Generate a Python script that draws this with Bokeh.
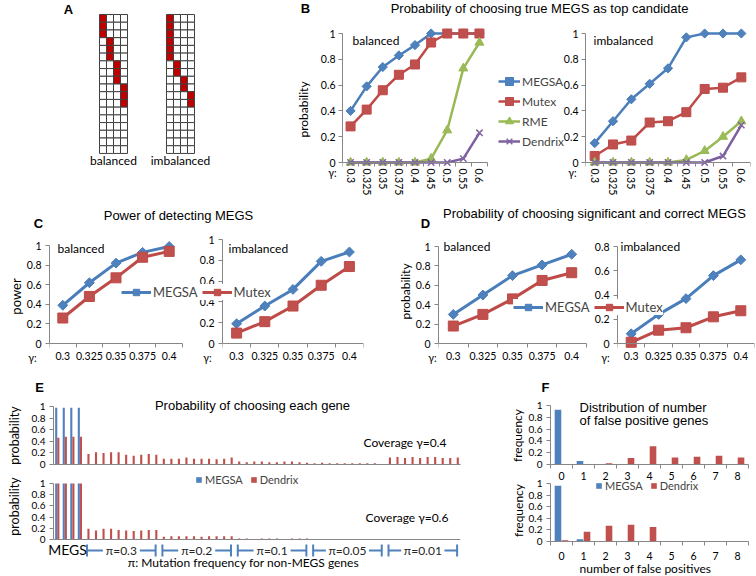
import math
from bokeh.plotting import figure
from bokeh.models import Range1d, FixedTicker, Label, Legend, LegendItem, Span, GridBox, LinearAxis
from bokeh.core.properties import value
from bokeh.embed import file_html
from bokeh.resources import INLINE

# ======================= DATA =======================
# Panel A: toy mutation matrices (18 samples x 4 genes), exclusive blocks
A_n_samples = 18
A_balanced_blocks = [3, 3, 3, 3]
A_imbalanced_blocks = [6, 2, 2, 2]

# Panel B: probability of choosing true MEGS as top candidate
B_gamma = ["0.3", "0.325", "0.35", "0.375", "0.4", "0.45", "0.5", "0.55", "0.6"]
B_bal_MEGSA = [0.40, 0.59, 0.74, 0.83, 0.91, 1.00, 1.00, 1.00, 1.00]
B_bal_Mutex = [0.28, 0.41, 0.56, 0.68, 0.76, 0.93, 1.00, 1.00, 1.00]
B_bal_RME = [0, 0, 0, 0, 0, 0.03, 0.25, 0.73, 0.93]
B_bal_Dendrix = [0, 0, 0, 0, 0, 0, 0, 0.03, 0.23]
B_imb_MEGSA = [0.15, 0.32, 0.49, 0.61, 0.73, 0.97, 1.00, 1.00, 1.00]
B_imb_Mutex = [0.05, 0.14, 0.17, 0.31, 0.32, 0.39, 0.57, 0.58, 0.66]
B_imb_RME = [0, 0, 0, 0, 0, 0.02, 0.09, 0.20, 0.32]
B_imb_Dendrix = [0, 0, 0, 0, 0, 0, 0, 0.05, 0.29]

# Panels C, D
CD_gamma = ["0.3", "0.325", "0.35", "0.375", "0.4"]
C_bal_MEGSA = [0.39, 0.62, 0.82, 0.93, 0.99]
C_bal_Mutex = [0.26, 0.48, 0.67, 0.88, 0.94]
C_imb_MEGSA = [0.19, 0.36, 0.52, 0.79, 0.88]
C_imb_Mutex = [0.10, 0.21, 0.36, 0.56, 0.74]
D_bal_MEGSA = [0.30, 0.50, 0.70, 0.81, 0.92]
D_bal_Mutex = [0.18, 0.30, 0.46, 0.65, 0.73]
D_imb_MEGSA = [0.08, 0.24, 0.37, 0.56, 0.69]
D_imb_Mutex = [0.01, 0.11, 0.13, 0.22, 0.27]

# Panel E: probability of choosing each gene
E_groups = ["π=0.3", "π=0.2", "π=0.1", "π=0.05", "π=0.01"]
E04_MEGSA_MEGS = [0.98, 0.98, 0.98, 0.98]
E04_Dendrix_MEGS = [0.46, 0.48, 0.48, 0.48]
E04_Dendrix_pi03 = [0.18, 0.21, 0.20, 0.21, 0.21, 0.17, 0.15, 0.17, 0.18, 0.17]
E04_Dendrix_pi02 = [0.10, 0.10, 0.10, 0.12, 0.10, 0.10, 0.10, 0.09, 0.10, 0.12]
E04_Dendrix_pi01 = [0.05, 0.04, 0.05, 0.05, 0.04, 0.04, 0.05, 0.05, 0.04, 0.03]
E04_Dendrix_pi005 = [0.02, 0.03, 0.02, 0.02, 0.02, 0.02, 0.02, 0.02, 0.02, 0.01]
E04_Dendrix_pi001 = [0.12, 0.13, 0.11, 0.13, 0.11, 0.13, 0.13, 0.11, 0.11, 0.12]
E06_MEGSA_MEGS = [1.0, 1.0, 1.0, 1.0]
E06_Dendrix_MEGS = [1.0, 1.0, 1.0, 1.0]
E06_Dendrix_pi03 = [0.19, 0.16, 0.19, 0.19, 0.17, 0.16, 0.15, 0.16, 0.17, 0.17]
E06_Dendrix_pi02 = [0.05, 0.06, 0.06, 0.06, 0.06, 0.05, 0.06, 0.06, 0.06, 0.06]
E06_Dendrix_pi01 = [0.02, 0.02, 0.01, 0.02, 0.02, 0.02, 0.01, 0.02, 0.02, 0.02]
E06_Dendrix_pi005 = [0.01, 0.01, 0.01, 0.01, 0.01, 0.01, 0.01, 0.01, 0.01, 0.01]
E06_Dendrix_pi001 = [0.005, 0.005, 0.005, 0.005, 0.005, 0.005, 0.005, 0.005, 0.005, 0.005]

# Panel F: distribution of number of false positive genes
F_num_fp = ["0", "1", "2", "3", "4", "5", "6", "7", "8"]
F04_MEGSA = [0.93, 0.06, 0.01, 0, 0, 0, 0, 0, 0]
F04_Dendrix = [0, 0, 0.02, 0.11, 0.31, 0.12, 0.13, 0.15, 0.12]
F06_MEGSA = [0.96, 0.04, 0, 0, 0, 0, 0, 0, 0]
F06_Dendrix = [0.02, 0.17, 0.27, 0.29, 0.25, 0, 0, 0, 0]

# ======================= STYLE =======================
AX = "#868686"
BLUE, BLUE_D = "#4F81BD", "#4A7EBB"
RED, RED_D = "#C0504D", "#BE4B48"
GREEN, GREEN_D = "#9BBB59", "#98B954"
PURPLE, PURPLE_D = "#8064A2", "#7D60A0"
TF = "Liberation Sans"
BF = "Lato"
PAGE = 0   # the standalone template has no body margin
W, H = 756, 576
EXTT = 8   # frame padding above the top value (so markers are not clipped)
EXTB = 5   # frame padding below zero


def make_fig(frame, xr, yr, l, r, t, b, axes=True):
    x0, y0, x1, y1 = frame
    kw = {} if axes else dict(x_axis_type=None, y_axis_type=None)
    p = figure(width=x1 - x0 + l + r, height=y1 - y0 + t + b, x_range=xr, y_range=yr,
               min_border_left=l, min_border_right=r, min_border_top=t, min_border_bottom=b,
               output_backend="svg", toolbar_location=None,
               background_fill_color=None, border_fill_color=None,
               outline_line_color=None, **kw)
    p.frame_align = False
    p.margin = (y0 - t - PAGE, 0, 0, x0 - l - PAGE)
    if axes:
        p.xgrid.visible = False
        p.ygrid.visible = False
    return p


def overrides(ticks, labels):
    d = {}
    for t, s in zip(ticks, labels):
        d[t] = s
        d[str(t)] = s
    return d


def style_y(ax, ticks, fs="10.5px", standoff=4, bounds=None):
    ax.ticker = FixedTicker(ticks=ticks)
    ax.major_label_overrides = overrides(ticks, ["%g" % t for t in ticks])
    ax.axis_line_color = AX
    ax.major_tick_line_color = AX
    ax.major_tick_out = 4
    ax.major_tick_in = 0
    ax.minor_tick_line_color = None
    ax.major_label_standoff = standoff
    ax.major_label_text_font = BF
    ax.major_label_text_font_size = fs
    ax.major_label_text_color = "black"
    if bounds is not None:
        ax.bounds = bounds


def style_x_cat(ax, labels, fs="10.5px", standoff=6, orientation="horizontal"):
    n = len(labels)
    ax.ticker = FixedTicker(ticks=list(range(n)), minor_ticks=[i - 0.5 for i in range(n + 1)])
    ax.major_label_overrides = overrides(list(range(n)), labels)
    ax.axis_line_color = AX
    ax.major_tick_out = 0
    ax.major_tick_in = 0
    ax.major_tick_line_color = None
    ax.minor_tick_out = 4
    ax.minor_tick_in = 0
    ax.minor_tick_line_color = AX
    ax.major_label_standoff = standoff
    ax.major_label_text_font = BF
    ax.major_label_text_font_size = fs
    ax.major_label_text_color = "black"
    ax.major_label_orientation = orientation


def line_x_axes(p, labels, fs, standoff, orientation="horizontal"):
    """labels on an axis at the frame bottom, rule + boundary ticks on an axis fixed at y=0"""
    n = len(labels)
    ax = p.xaxis[0]
    ax.ticker = FixedTicker(ticks=list(range(n)))
    ax.major_label_overrides = overrides(list(range(n)), labels)
    ax.axis_line_color = None
    ax.major_tick_line_color = None
    ax.minor_tick_line_color = None
    ax.major_tick_out = 0
    ax.major_tick_in = 0
    ax.minor_tick_out = 0
    ax.minor_tick_in = 0
    ax.major_label_standoff = standoff
    ax.major_label_text_font = BF
    ax.major_label_text_font_size = fs
    ax.major_label_text_color = "black"
    ax.major_label_orientation = orientation
    rule = LinearAxis(fixed_location=0,
                      ticker=FixedTicker(ticks=[], minor_ticks=[i - 0.5 for i in range(n + 1)]),
                      bounds=(-0.5, n - 0.5), axis_line_color=AX,
                      major_tick_line_color=None, major_tick_in=0, major_tick_out=0,
                      minor_tick_line_color=AX, minor_tick_in=4, minor_tick_out=0,
                      major_label_standoff=0, major_label_text_font_size="0px")
    p.add_layout(rule, "above")


def series(p, y, color, dcolor, marker, size, angle=0.0, lw=2.5):
    x = list(range(len(y)))
    r1 = p.line(x, y, line_color=dcolor, line_width=lw)
    if marker == "x":
        r2 = p.scatter(x, y, marker="x", size=size, line_color=color, line_width=1.5)
    else:
        r2 = p.scatter(x, y, marker=marker, size=size, angle=angle, fill_color=color,
                       line_color=dcolor, line_width=1)
    return [r1, r2]


def add_legend(p, items, loc, orientation, gw, gh, lh, standoff, spacing, fs, padding=0, bg=None):
    lg = Legend(items=[LegendItem(label=value(t), renderers=rs) for t, rs in items],
                location=loc, orientation=orientation, glyph_width=gw, glyph_height=gh,
                label_height=lh, label_standoff=standoff, spacing=spacing, padding=padding,
                margin=0, label_text_font=BF, label_text_font_size=fs,
                border_line_color=None, background_fill_color=bg, background_fill_alpha=1.0)
    p.add_layout(lg)


# ======================= PANEL A =======================
A = make_fig((8, 8, 250, 190), Range1d(-13, 21.57), Range1d(22.8, -0.78), 0, 0, 0, 0, axes=False)


def grid_cells(blocks, x_off):
    mutated = set()
    row = 0
    for g, n in enumerate(blocks):
        for _ in range(n):
            mutated.add((row, g))
            row += 1
    xs, ys, cs = [], [], []
    for rr in range(A_n_samples):
        for g in range(len(blocks)):
            xs.append(x_off + g + 0.5)
            ys.append(rr + 0.5)
            cs.append("#C00000" if (rr, g) in mutated else "white")
    return xs, ys, cs


for blocks, off in ((A_balanced_blocks, 0.0), (A_imbalanced_blocks, 9.57)):
    xs, ys, cs = grid_cells(blocks, off)
    A.rect(x=xs, y=ys, width=1, height=1, fill_color=cs, line_color="#404040", line_width=1)


# ======================= line-chart helper =======================
def line_fig(axis_box, n, top, extra_right, l, r, t, b):
    """axis_box = (x of y-axis, px of top value, x of axis end, px of zero)"""
    ax0, atop, ax1, a0 = axis_box
    ppu = (a0 - atop) / top
    cat = (ax1 - ax0) / n
    frame = (ax0, atop - EXTT, ax1 + extra_right, a0 + EXTB)
    xr = Range1d(-0.5, -0.5 + (ax1 + extra_right - ax0) / cat)
    yr = Range1d(-EXTB / ppu, top + EXTT / ppu)
    return make_fig(frame, xr, yr, l, r, t, b)


T1 = [0, 0.2, 0.4, 0.6, 0.8, 1]
T08 = [0, 0.2, 0.4, 0.6, 0.8]

# ======================= PANEL B =======================
nB = len(B_gamma)
B_right = line_fig((585, 33, 750, 162), nB, 1.0, 0, 40, 5, 15, 36)
B_left = line_fig((342, 33, 487, 162), nB, 1.0, 80, 55, 5, 15, 36)
B_rend = []
for p, data in ((B_right, (B_imb_MEGSA, B_imb_Mutex, B_imb_RME, B_imb_Dendrix)),
                (B_left, (B_bal_MEGSA, B_bal_Mutex, B_bal_RME, B_bal_Dendrix))):
    style_y(p.yaxis[0], T1, "10.5px", 3, (0, 1))
    line_x_axes(p, B_gamma, "10.5px", 1, "vertical")
    rm = series(p, data[0], BLUE, BLUE_D, "square", 6.5, math.pi / 4)
    rx = series(p, data[1], RED, RED_D, "square", 9)
    rr = series(p, data[2], GREEN, GREEN_D, "triangle", 9)
    rd = series(p, data[3], PURPLE, PURPLE_D, "x", 9)
    B_rend = (rm, rx, rr, rd)
rm, rx, rr, rd = B_rend
add_legend(B_left, [("MEGSA", rm), ("Mutex", rx), ("RME", rr), ("Dendrix", rd)],
           (156, 16), "vertical", 22, 20, 20, 2, 0, "12px")


# ======================= PANELS C, D =======================
def cd_panel(axis_box, top, ticks, d1, d2, extra_right):
    p = line_fig(axis_box, len(CD_gamma), top, extra_right, 40, 5, 15, 30)
    style_y(p.yaxis[0], ticks, "10.5px", 4, (0, top))
    line_x_axes(p, CD_gamma, "10.5px", 3)
    a = series(p, d1, BLUE, BLUE_D, "square", 7, math.pi / 4, 3)
    b = series(p, d2, RED, RED_D, "square", 10, 0.0, 3)
    return p, a, b


C_right, _, _ = cd_panel((222, 239, 363, 343), 1.0, T1, C_imb_MEGSA, C_imb_Mutex, 0)
C_left, ca, cb = cd_panel((49, 245, 182, 343), 1.0, T1, C_bal_MEGSA, C_bal_Mutex, 92)
add_legend(C_left, [("MEGSA", ca), ("Mutex", cb)], (72, 48), "horizontal", 30, 16, 16, 2, 4, "13px",
           padding=2, bg="white")
D_right, _, _ = cd_panel((617, 246, 754, 343), 0.8, T08, D_imb_MEGSA, D_imb_Mutex, 0)
D_left, da, db = cd_panel((438, 246, 586, 343), 1.0, T1, D_bal_MEGSA, D_bal_Mutex, 80)
add_legend(D_left, [("MEGSA", da), ("Mutex", db)], (75, 33), "horizontal", 30, 16, 16, 2, 4, "13px",
           padding=2, bg="white")

# ======================= PANEL E =======================
E04_Dendrix = (E04_Dendrix_MEGS + E04_Dendrix_pi03 + E04_Dendrix_pi02 + E04_Dendrix_pi01
               + E04_Dendrix_pi005 + E04_Dendrix_pi001)
E06_Dendrix = (E06_Dendrix_MEGS + E06_Dendrix_pi03 + E06_Dendrix_pi02 + E06_Dendrix_pi01
               + E06_Dendrix_pi005 + E06_Dendrix_pi001)
E_group_lists = [E06_Dendrix_pi03, E06_Dendrix_pi02, E06_Dendrix_pi01, E06_Dendrix_pi005, E06_Dendrix_pi001]
nE = len(E04_Dendrix)
nMEGS = len(E04_MEGSA_MEGS)


def e_bars(p, megsa, dendrix):
    rb = p.vbar(x=[i - 0.14 for i in range(len(megsa))], top=megsa, width=0.28,
                fill_color=BLUE, line_color=None)
    rrd = p.vbar(x=[i + 0.14 for i in range(len(dendrix))], top=dendrix, width=0.28,
                 fill_color=RED, line_color=None)
    return rb, rrd


E_top = make_fig((53, 406, 460, 464), Range1d(-0.5, nE - 0.5), Range1d(0, 1), 40, 5, 5, 8)
style_y(E_top.yaxis[0], T1, "10px", 4)
E_top.xaxis[0].ticker = FixedTicker(ticks=[])
E_top.xaxis[0].axis_line_color = AX
E_top.xaxis[0].major_tick_out = 0
E_top.xaxis[0].major_label_standoff = 0
e_bars(E_top, E04_MEGSA_MEGS, E04_Dendrix)

ppuE = 539 - 483
E_bot = make_fig((53, 474, 460, 557), Range1d(-0.5, nE - 0.5),
                 Range1d(-18 / ppuE, 1 + 9 / ppuE), 40, 5, 5, 3)
style_y(E_bot.yaxis[0], T1, "10px", 4, (0, 1))
E_bot.xaxis[0].visible = False
E_bot.add_layout(Span(location=0, dimension="width", line_color=AX, line_width=1))
eb, er = e_bars(E_bot, E06_MEGSA_MEGS, E06_Dendrix)
add_legend(E_bot, [("MEGSA", [eb]), ("Dendrix", [er])], (142, 71), "horizontal", 7, 7, 10, 3, 7, "11px")

# group brackets below the axis
by = -11 / ppuE
cap = 6 / ppuE
cat_px = (460 - 53) / nE
sx0, sy0, sx1, sy1 = [], [], [], []
start = nMEGS
for name, lst in zip(E_groups, E_group_lists):
    end = start + len(lst) - 1
    lc, rc = start - 0.05, end + 0.05
    c = (start + end) / 2
    hw = (3.1 * len(name) + 3) / cat_px
    sx0 += [lc, c + hw, lc, rc]
    sx1 += [c - hw, rc, lc, rc]
    sy0 += [by, by, by - cap, by - cap]
    sy1 += [by, by, by + cap, by + cap]
    E_bot.add_layout(Label(x=c, y=by, text=name, text_font=BF, text_font_size="12px",
                           text_align="center", text_baseline="middle", text_color="#262626"))
    start = end + 1
E_bot.segment(x0=sx0, y0=sy0, x1=sx1, y1=sy1, line_color=BLUE, line_width=2)


# ======================= PANEL F =======================
def f_panel(frame, ytop, megsa, dendrix, t, b, standoff):
    p = make_fig(frame, Range1d(-0.5, len(F_num_fp) - 0.5), Range1d(0, ytop), 40, 5, t, b)
    style_y(p.yaxis[0], T1, "10px", 4, (0, 1))
    style_x_cat(p.xaxis[0], F_num_fp, "10.5px", standoff)
    n = len(megsa)
    r1 = p.vbar(x=[i - 0.16 for i in range(n)], top=megsa, width=0.3, fill_color=BLUE, line_color=None)
    r2 = p.vbar(x=[i + 0.16 for i in range(n)], top=dendrix, width=0.3, fill_color=RED, line_color=None)
    return p, r1, r2


F_top, _, _ = f_panel((550, 405, 748, 464), 1.0, F04_MEGSA, F04_Dendrix, 5, 25, 3)
F_bot, fb, fr = f_panel((550, 480, 748, 541), 1 + 3 / 58, F06_MEGSA, F06_Dendrix, 5, 27, 6)
add_legend(F_bot, [("MEGSA", [fb]), ("Dendrix", [fr])], (45, 49), "horizontal", 7, 7, 10, 3, 7, "11px")

# ======================= OVERLAY TEXT =======================
ov = figure(width=W, height=H, x_range=Range1d(0, W), y_range=Range1d(H, 0),
            x_axis_type=None, y_axis_type=None, min_border=0, output_backend="svg",
            toolbar_location=None, background_fill_color=None, border_fill_color=None,
            outline_line_color=None)
ov.frame_align = False
ov.margin = (0, 0, 0, 0)


def lab(x, y, s, fs="12px", font=BF, style="normal", align="center", angle=0.0):
    ov.add_layout(Label(x=x, y=y, text=s, text_font=font, text_font_size=fs, text_font_style=style,
                        text_align=align, text_baseline="middle", angle=angle, text_color="black"))


V = math.pi / 2
for s, x, y in (("A", 68, 9), ("B", 305, 8), ("C", 38, 223), ("D", 425, 223), ("E", 39, 387), ("F", 545, 387)):
    lab(x, y, s, "13px", TF, "bold")
lab(539, 8, "Probability of choosing true MEGS as top candidate", "13px", TF)
lab(178, 215, "Power of detecting MEGS", "13px", TF)
lab(594, 213, "Probability of choosing significant and correct MEGS", "13px", TF)
lab(252, 405, "Probability of choosing each gene", "13px", TF)
lab(579, 407, "Distribution of number", "13px", TF, align="left")
lab(579, 420, "of false positive genes", "13px", TF, align="left")

lab(113, 160, "balanced")
lab(180, 160, "imbalanced")
lab(352, 40, "balanced", align="left")
lab(593, 40, "imbalanced", align="left")
lab(57, 248, "balanced", align="left")
lab(228, 248, "imbalanced", align="left")
lab(443, 246, "balanced", align="left")
lab(620, 246, "imbalanced", align="left")

lab(303, 109, "probability", "12px", angle=V)
lab(15, 296, "power", "13px", angle=V)
lab(405, 291, "probability", "12px", angle=V)
lab(14, 435, "probability", "12.5px", angle=V)
lab(14, 506, "probability", "12.5px", angle=V)
lab(517, 435, "frequency", "12px", angle=V)
lab(518, 510, "frequency", "12px", angle=V)

for x, y in ((332, 172), (572, 172), (32, 357), (207, 357), (432, 357), (605, 357)):
    lab(x, y, "γ:", "10.5px")

lab(363, 442, "Coverage γ=0.4", "12px", align="left")
lab(365, 517, "Coverage γ=0.6", "12px", align="left")
lab(67, 549, "MEGS", "14px")
lab(243, 562, "π: Mutation frequency for non-MEGS genes", "12px")
lab(645, 568, "number of false positives", "12px")

figs = [A, B_right, B_left, C_right, C_left, D_right, D_left, E_top, E_bot, F_top, F_bot, ov]
layout = GridBox(children=[(f, 0, 0) for f in figs])

open("out.html", "w").write(file_html(layout, INLINE))
